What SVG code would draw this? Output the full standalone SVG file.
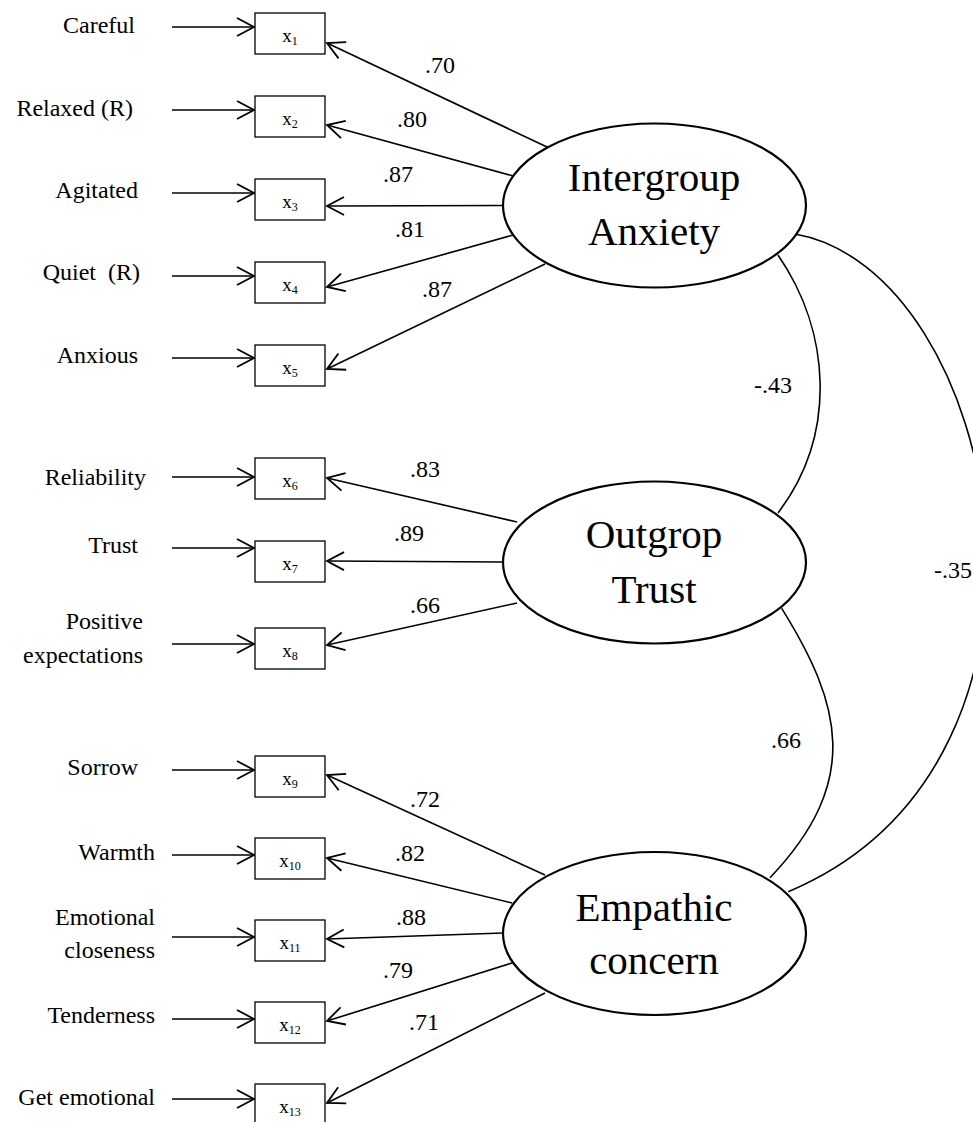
<svg xmlns="http://www.w3.org/2000/svg" width="973" height="1122" viewBox="0 0 973 1122">
<style>
text{font-family:"Liberation Serif","Times New Roman",serif;fill:#000}
.lbl{font-size:24px;text-anchor:end}
.num{font-size:24px;text-anchor:middle}
.big{font-size:41px;text-anchor:middle}
.xl{font-size:19px;text-anchor:middle}
.sub{font-size:12px}
.box{fill:#fff;stroke:#000;stroke-width:1.3}
.ell{fill:#fff;stroke:#000;stroke-width:2.2}
.arr{stroke:#000;stroke-width:1.6;fill:none;marker-end:url(#ah)}
.cov{stroke:#000;stroke-width:1.6;fill:none}
</style>
<defs>
<marker id="ah" markerUnits="userSpaceOnUse" markerWidth="22" markerHeight="22" refX="19" refY="10" orient="auto">
<path d="M2,1 L19,10 L2,19" fill="none" stroke="#000" stroke-width="1.8"/>
</marker>
</defs>
<g id="connectors">
<line class="arr" x1="172" y1="27" x2="254" y2="27"/>
<line class="arr" x1="172" y1="110" x2="254" y2="110"/>
<line class="arr" x1="172" y1="193" x2="254" y2="193"/>
<line class="arr" x1="172" y1="276" x2="254" y2="276"/>
<line class="arr" x1="172" y1="358" x2="254" y2="358"/>
<line class="arr" x1="172" y1="477" x2="254" y2="477"/>
<line class="arr" x1="172" y1="548" x2="254" y2="548"/>
<line class="arr" x1="172" y1="644" x2="254" y2="644"/>
<line class="arr" x1="172" y1="770" x2="254" y2="770"/>
<line class="arr" x1="172" y1="855" x2="254" y2="855"/>
<line class="arr" x1="172" y1="937" x2="254" y2="937"/>
<line class="arr" x1="172" y1="1019" x2="254" y2="1019"/>
<line class="arr" x1="172" y1="1099" x2="254" y2="1099"/>
<line class="arr" x1="547" y1="147" x2="327" y2="43"/>
<line class="arr" x1="517" y1="177" x2="327" y2="125"/>
<line class="arr" x1="503" y1="205.5" x2="327" y2="206"/>
<line class="arr" x1="517" y1="234" x2="327" y2="287"/>
<line class="arr" x1="545" y1="264" x2="327" y2="369"/>
<line class="arr" x1="517" y1="522" x2="327" y2="478"/>
<line class="arr" x1="503" y1="562" x2="327" y2="561"/>
<line class="arr" x1="517" y1="603" x2="327" y2="645"/>
<line class="arr" x1="545" y1="875" x2="327" y2="775"/>
<line class="arr" x1="512" y1="903" x2="327" y2="858"/>
<line class="arr" x1="503" y1="933" x2="327" y2="939"/>
<line class="arr" x1="512" y1="963" x2="327" y2="1021"/>
<line class="arr" x1="545" y1="993" x2="327" y2="1103"/>
<path class="cov" d="M778,255 C830.6,331.5 837.7,434 778,513"/>
<path class="cov" d="M781.7,608.3 C841.6,704.6 862,781.4 770,877.7"/>
<path class="cov" d="M795,234 C1000,270 1100,760 788.3,891.7"/>
</g>
<g id="labels">
<text class="lbl" x="135" y="33">Careful</text>
<text class="lbl" x="133" y="116">Relaxed (R)</text>
<text class="lbl" x="138" y="198">Agitated</text>
<text class="lbl" x="140" y="280" xml:space="preserve">Quiet  (R)</text>
<text class="lbl" x="138" y="363">Anxious</text>
<text class="lbl" x="146" y="485">Reliability</text>
<text class="lbl" x="138" y="553">Trust</text>
<text class="lbl" x="143" y="629">Positive</text>
<text class="lbl" x="143" y="663">expectations</text>
<text class="lbl" x="138" y="775">Sorrow</text>
<text class="lbl" x="155" y="860">Warmth</text>
<text class="lbl" x="155" y="925">Emotional</text>
<text class="lbl" x="155" y="958">closeness</text>
<text class="lbl" x="155" y="1023">Tenderness</text>
<text class="lbl" x="155" y="1105">Get emotional</text>
</g>
<g id="loadings">
<text class="num" x="440" y="73">.70</text>
<text class="num" x="412" y="127">.80</text>
<text class="num" x="398" y="182">.87</text>
<text class="num" x="410" y="237">.81</text>
<text class="num" x="437" y="297">.87</text>
<text class="num" x="425" y="477">.83</text>
<text class="num" x="409" y="541">.89</text>
<text class="num" x="425" y="613">.66</text>
<text class="num" x="425" y="807">.72</text>
<text class="num" x="410" y="861">.82</text>
<text class="num" x="411" y="925">.88</text>
<text class="num" x="398" y="978">.79</text>
<text class="num" x="424" y="1030">.71</text>
<text class="num" x="773" y="393">-.43</text>
<text class="num" x="786" y="748">.66</text>
<text class="num" x="953" y="578">-.35</text>
</g>
<g id="x1"><rect class="box" x="255" y="13" width="70" height="41"/><text class="xl" x="290" y="42">x<tspan class="sub" dy="3">1</tspan></text></g>
<g id="x2"><rect class="box" x="255" y="96" width="70" height="41"/><text class="xl" x="290" y="125">x<tspan class="sub" dy="3">2</tspan></text></g>
<g id="x3"><rect class="box" x="255" y="179" width="70" height="41"/><text class="xl" x="290" y="208">x<tspan class="sub" dy="3">3</tspan></text></g>
<g id="x4"><rect class="box" x="255" y="262" width="70" height="41"/><text class="xl" x="290" y="291">x<tspan class="sub" dy="3">4</tspan></text></g>
<g id="x5"><rect class="box" x="255" y="345" width="70" height="41"/><text class="xl" x="290" y="374">x<tspan class="sub" dy="3">5</tspan></text></g>
<g id="x6"><rect class="box" x="255" y="458" width="70" height="41"/><text class="xl" x="290" y="487">x<tspan class="sub" dy="3">6</tspan></text></g>
<g id="x7"><rect class="box" x="255" y="541" width="70" height="41"/><text class="xl" x="290" y="570">x<tspan class="sub" dy="3">7</tspan></text></g>
<g id="x8"><rect class="box" x="255" y="628" width="70" height="41"/><text class="xl" x="290" y="657">x<tspan class="sub" dy="3">8</tspan></text></g>
<g id="x9"><rect class="box" x="255" y="756" width="70" height="41"/><text class="xl" x="290" y="785">x<tspan class="sub" dy="3">9</tspan></text></g>
<g id="x10"><rect class="box" x="255" y="838" width="70" height="41"/><text class="xl" x="290" y="867">x<tspan class="sub" dy="3">10</tspan></text></g>
<g id="x11"><rect class="box" x="255" y="920" width="70" height="41"/><text class="xl" x="290" y="949">x<tspan class="sub" dy="3">11</tspan></text></g>
<g id="x12"><rect class="box" x="255" y="1002" width="70" height="41"/><text class="xl" x="290" y="1031">x<tspan class="sub" dy="3">12</tspan></text></g>
<g id="x13"><rect class="box" x="255" y="1084" width="70" height="41"/><text class="xl" x="290" y="1113">x<tspan class="sub" dy="3">13</tspan></text></g>
<g id="anxiety"><ellipse class="ell" cx="654.5" cy="205.5" rx="151.5" ry="82"/><text class="big" x="654" y="191">Intergroup</text><text class="big" x="654" y="245">Anxiety</text></g>
<g id="trust"><ellipse class="ell" cx="654.5" cy="562.5" rx="151.5" ry="81"/><text class="big" x="654" y="548">Outgrop</text><text class="big" x="654" y="603">Trust</text></g>
<g id="empathy"><ellipse class="ell" cx="654.5" cy="933.5" rx="151.5" ry="81.5"/><text class="big" x="654" y="921">Empathic</text><text class="big" x="654" y="974">concern</text></g>
</svg>
